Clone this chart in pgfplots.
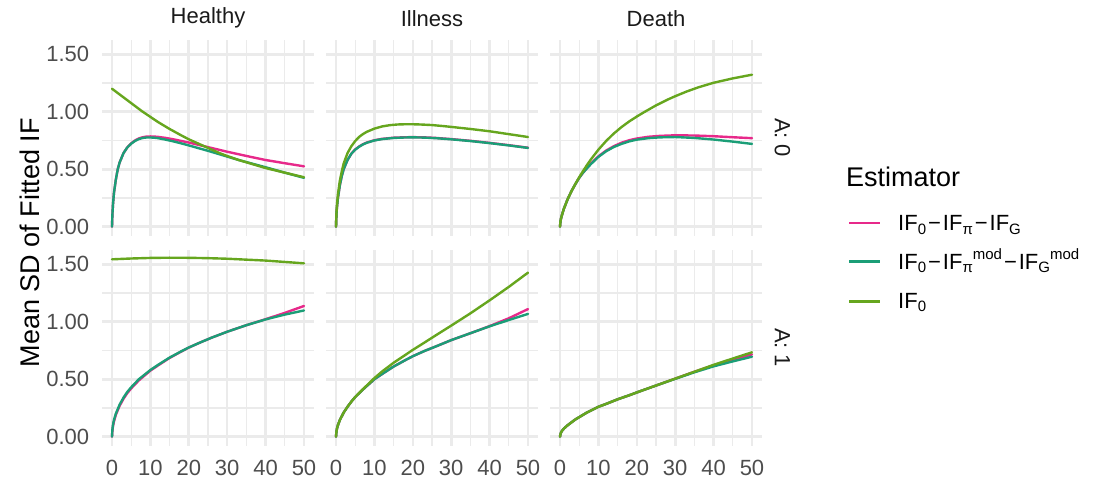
\documentclass[border=0pt]{standalone}
\usepackage{fontspec}
\setmainfont{Liberation Sans}
\usepackage{pgfplots}
\pgfplotsset{compat=1.18}
\definecolor{cpink}{HTML}{E7298A}
\definecolor{cteal}{HTML}{1B9E77}
\definecolor{cgreen}{HTML}{66A61E}
\definecolor{cgrid}{HTML}{EBEBEB}
\definecolor{ctick}{HTML}{4D4D4D}
\definecolor{cstrip}{HTML}{1A1A1A}
\newcommand{\fs}[1]{\fontsize{#1}{#1}\selectfont}
\newcommand{\sub}[1]{\raisebox{-3.5pt}{\fs{15}#1}}
\newcommand{\sps}[1]{\raisebox{10pt}{\fs{15}#1}}
\newcommand{\mn}{\hspace{2pt}−\hspace{2pt}}
\pgfplotsset{
  panel/.style={
    scale only axis, width=211.2pt, height=196pt, anchor=south west,
    xmin=-2.5, xmax=52.5, ymin=-0.0775, ymax=1.6275,
    xtick={0,10,20,30,40,50}, ytick={0,0.5,1,1.5},
    minor xtick={5,15,25,35,45}, minor ytick={0.25,0.75,1.25},
    grid=both,
    major grid style={line width=2.6pt, cgrid},
    minor grid style={line width=1.3pt, cgrid},
    axis line style={draw=none},
    major tick length=0pt, minor tick length=0pt,
    xticklabels={}, yticklabels={},
    xticklabel style={font=\fs{22}, text=ctick, anchor=north, inner sep=0pt, yshift=-14.4pt},
    yticklabel style={font=\fs{22}, text=ctick, anchor=east, inner sep=0pt, xshift=-13.1pt},
    every axis plot/.append style={line width=2.4pt, line join=round, line cap=round, no markers},
  },
  bottomrow/.style={xticklabels={0,10,20,30,40,50}},
  leftcol/.style={yticklabels={0.00,0.50,1.00,1.50}},
}
\begin{document}
\begin{tikzpicture}
\useasboundingbox (0pt,0pt) rectangle (1095pt,484pt);
% ---------------- Row A:0 ----------------
\begin{axis}[panel, leftcol, at={(102.4pt,248.4pt)}]
\addplot[cpink] coordinates {(0,0)(0.1,0.1)(0.25,0.19)(0.5,0.29)(1,0.41)(1.5,0.5)(2,0.56)(3,0.64)(4,0.69)(5,0.725)(6,0.75)(7,0.768)(8,0.778)(9,0.784)(10,0.785)(11,0.784)(12,0.781)(14,0.772)(16,0.76)(18,0.746)(20,0.732)(22,0.716)(25,0.692)(28,0.668)(30,0.652)(33,0.63)(36,0.608)(40,0.58)(45,0.552)(50,0.525)};
\addplot[cteal] coordinates {(0,0)(0.1,0.1)(0.25,0.19)(0.5,0.29)(1,0.41)(1.5,0.5)(2,0.56)(3,0.64)(4,0.69)(5,0.722)(6,0.746)(7,0.762)(8,0.772)(9,0.776)(10,0.776)(11,0.774)(12,0.77)(14,0.757)(16,0.742)(18,0.725)(20,0.707)(22,0.688)(25,0.66)(28,0.63)(30,0.61)(33,0.58)(36,0.553)(40,0.517)(45,0.47)(50,0.425)};
\addplot[cgreen] coordinates {(0,1.2)(2,1.15)(4,1.1)(6,1.05)(8,1.0)(10,0.955)(12,0.91)(15,0.85)(18,0.795)(20,0.76)(22,0.73)(25,0.685)(28,0.64)(30,0.615)(33,0.58)(36,0.55)(40,0.51)(45,0.47)(50,0.43)};
\end{axis}
\begin{axis}[panel, at={(326.4pt,248.4pt)}]
\addplot[cpink] coordinates {(0,0)(0.1,0.1)(0.25,0.17)(0.5,0.25)(1,0.36)(1.5,0.44)(2,0.5)(3,0.58)(4,0.635)(5,0.672)(6,0.697)(7,0.717)(8,0.732)(10,0.752)(12,0.764)(15,0.774)(18,0.778)(20,0.779)(23,0.777)(26,0.772)(30,0.762)(35,0.747)(40,0.729)(45,0.709)(50,0.687)};
\addplot[cteal] coordinates {(0,0)(0.1,0.1)(0.25,0.17)(0.5,0.25)(1,0.36)(1.5,0.44)(2,0.5)(3,0.58)(4,0.635)(5,0.67)(6,0.695)(7,0.715)(8,0.73)(10,0.75)(12,0.762)(15,0.772)(18,0.776)(20,0.777)(23,0.775)(26,0.77)(30,0.76)(35,0.745)(40,0.727)(45,0.707)(50,0.685)};
\addplot[cgreen] coordinates {(0,0)(0.1,0.11)(0.25,0.19)(0.5,0.28)(1,0.4)(1.5,0.48)(2,0.55)(3,0.64)(4,0.7)(5,0.745)(6,0.78)(7,0.805)(8,0.825)(10,0.853)(12,0.872)(14,0.883)(16,0.889)(18,0.891)(20,0.891)(22,0.889)(25,0.884)(28,0.875)(30,0.868)(35,0.85)(40,0.83)(45,0.805)(50,0.78)};
\end{axis}
\begin{axis}[panel, at={(550.4pt,248.4pt)}]
\addplot[cpink] coordinates {(0,0)(0.1,0.04)(0.25,0.07)(0.5,0.1)(1,0.155)(2,0.24)(3,0.31)(4,0.37)(5,0.425)(6,0.47)(7,0.51)(8,0.548)(10,0.612)(12,0.662)(14,0.7)(16,0.73)(18,0.752)(20,0.767)(23,0.782)(26,0.79)(30,0.795)(35,0.793)(40,0.787)(45,0.778)(50,0.77)};
\addplot[cteal] coordinates {(0,0)(0.1,0.04)(0.25,0.07)(0.5,0.1)(1,0.155)(2,0.24)(3,0.31)(4,0.37)(5,0.425)(6,0.47)(7,0.507)(8,0.543)(10,0.607)(12,0.656)(14,0.693)(16,0.72)(18,0.742)(20,0.757)(23,0.77)(26,0.777)(30,0.78)(35,0.772)(40,0.758)(45,0.74)(50,0.72)};
\addplot[cgreen] coordinates {(0,0)(0.1,0.04)(0.25,0.07)(0.5,0.1)(1,0.155)(2,0.24)(3,0.31)(4,0.372)(5,0.43)(6,0.484)(7,0.535)(8,0.583)(10,0.67)(12,0.745)(14,0.81)(16,0.866)(18,0.915)(20,0.958)(22,0.998)(25,1.055)(28,1.105)(30,1.135)(33,1.176)(36,1.212)(40,1.252)(45,1.29)(50,1.322)};
\end{axis}
% ---------------- Row A:1 ----------------
\begin{axis}[panel, leftcol, bottomrow, at={(102.4pt,38.4pt)}]
\addplot[cpink] coordinates {(0,0)(0.1,0.05)(0.25,0.09)(0.5,0.13)(1,0.19)(2,0.27)(3,0.33)(4,0.38)(5,0.42)(7,0.49)(10,0.575)(12,0.62)(15,0.685)(18,0.74)(20,0.775)(23,0.82)(26,0.862)(30,0.913)(35,0.97)(40,1.022)(45,1.077)(50,1.137)};
\addplot[cteal] coordinates {(0,0)(0.1,0.06)(0.25,0.1)(0.5,0.145)(1,0.2)(2,0.28)(3,0.34)(4,0.39)(5,0.43)(7,0.5)(10,0.58)(12,0.625)(15,0.688)(18,0.742)(20,0.776)(23,0.82)(26,0.862)(30,0.913)(35,0.97)(40,1.02)(45,1.062)(50,1.098)};
\addplot[cgreen] coordinates {(0,1.543)(5,1.55)(10,1.555)(15,1.557)(20,1.556)(25,1.553)(30,1.548)(35,1.54)(40,1.532)(45,1.52)(50,1.508)};
\end{axis}
\begin{axis}[panel, bottomrow, at={(326.4pt,38.4pt)}]
\addplot[cpink] coordinates {(0,0)(0.1,0.04)(0.25,0.07)(0.5,0.1)(1,0.145)(2,0.21)(3,0.26)(4,0.305)(5,0.345)(7,0.41)(10,0.5)(12,0.545)(15,0.61)(18,0.665)(20,0.7)(23,0.745)(26,0.785)(30,0.84)(35,0.9)(40,0.962)(45,1.03)(50,1.11)};
\addplot[cteal] coordinates {(0,0)(0.1,0.04)(0.25,0.07)(0.5,0.1)(1,0.145)(2,0.21)(3,0.26)(4,0.305)(5,0.345)(7,0.41)(10,0.5)(12,0.545)(15,0.61)(18,0.665)(20,0.7)(23,0.745)(26,0.785)(30,0.84)(35,0.9)(40,0.96)(45,1.015)(50,1.068)};
\addplot[cgreen] coordinates {(0,0)(0.1,0.04)(0.25,0.07)(0.5,0.1)(1,0.145)(2,0.21)(3,0.26)(4,0.305)(5,0.345)(7,0.413)(10,0.51)(12,0.567)(15,0.643)(18,0.71)(20,0.755)(23,0.818)(26,0.882)(30,0.966)(35,1.073)(40,1.186)(45,1.303)(50,1.427)};
\end{axis}
\begin{axis}[panel, bottomrow, at={(550.4pt,38.4pt)}]
\addplot[cpink] coordinates {(0,0)(0.1,0.02)(0.25,0.035)(0.5,0.05)(1,0.07)(2,0.1)(3,0.125)(4,0.15)(5,0.17)(7,0.21)(10,0.26)(12,0.285)(15,0.325)(18,0.36)(20,0.385)(25,0.445)(30,0.505)(35,0.565)(40,0.62)(45,0.67)(50,0.716)};
\addplot[cteal] coordinates {(0,0)(0.1,0.02)(0.25,0.035)(0.5,0.05)(1,0.07)(2,0.1)(3,0.125)(4,0.15)(5,0.17)(7,0.21)(10,0.26)(12,0.285)(15,0.325)(18,0.36)(20,0.385)(25,0.445)(30,0.503)(35,0.56)(40,0.612)(45,0.655)(50,0.696)};
\addplot[cgreen] coordinates {(0,0)(0.1,0.02)(0.25,0.035)(0.5,0.05)(1,0.07)(2,0.1)(3,0.125)(4,0.15)(5,0.17)(7,0.21)(10,0.26)(12,0.285)(15,0.325)(18,0.36)(20,0.385)(25,0.445)(30,0.505)(35,0.565)(40,0.625)(45,0.68)(50,0.734)};
\end{axis}
% ---------------- strips and titles ----------------
\node[font=\fs{22}, text=cstrip] at (208pt,465.7pt) {Healthy};
\node[font=\fs{22}, text=cstrip] at (432pt,465.7pt) {Illness};
\node[font=\fs{22}, text=cstrip] at (656pt,465.7pt) {Death};
\node[font=\fs{22}, text=cstrip, rotate=-90] at (782.5pt,346.4pt) {A: 0};
\node[font=\fs{22}, text=cstrip, rotate=-90] at (782.5pt,136.4pt) {A: 1};
\node[font=\fs{27}, rotate=90, anchor=base] at (39.3pt,241.4pt) {Mean SD of Fitted IF};
% ---------------- legend ----------------
\node[font=\fs{27}, anchor=base west, inner sep=0pt] at (846pt,297pt) {Estimator};
\draw[cpink, line width=2.4pt] (849pt,260.7pt) -- (880pt,260.7pt);
\draw[cteal, line width=2.4pt] (849pt,222.3pt) -- (880pt,222.3pt);
\draw[cgreen, line width=2.4pt] (849pt,182.3pt) -- (880pt,182.3pt);
\node[font=\fs{22}, anchor=base west, inner sep=0pt] at (898pt,253.2pt) {IF\sub{0}\mn IF\sub{π}\mn IF\sub{G}};
\node[font=\fs{22}, anchor=base west, inner sep=0pt] at (898pt,214.5pt) {IF\sub{0}\mn IF\sub{π}\sps{mod}\mn IF\sub{G}\sps{mod}};
\node[font=\fs{22}, anchor=base west, inner sep=0pt] at (898pt,175.5pt) {IF\sub{0}};
\end{tikzpicture}
\end{document}
